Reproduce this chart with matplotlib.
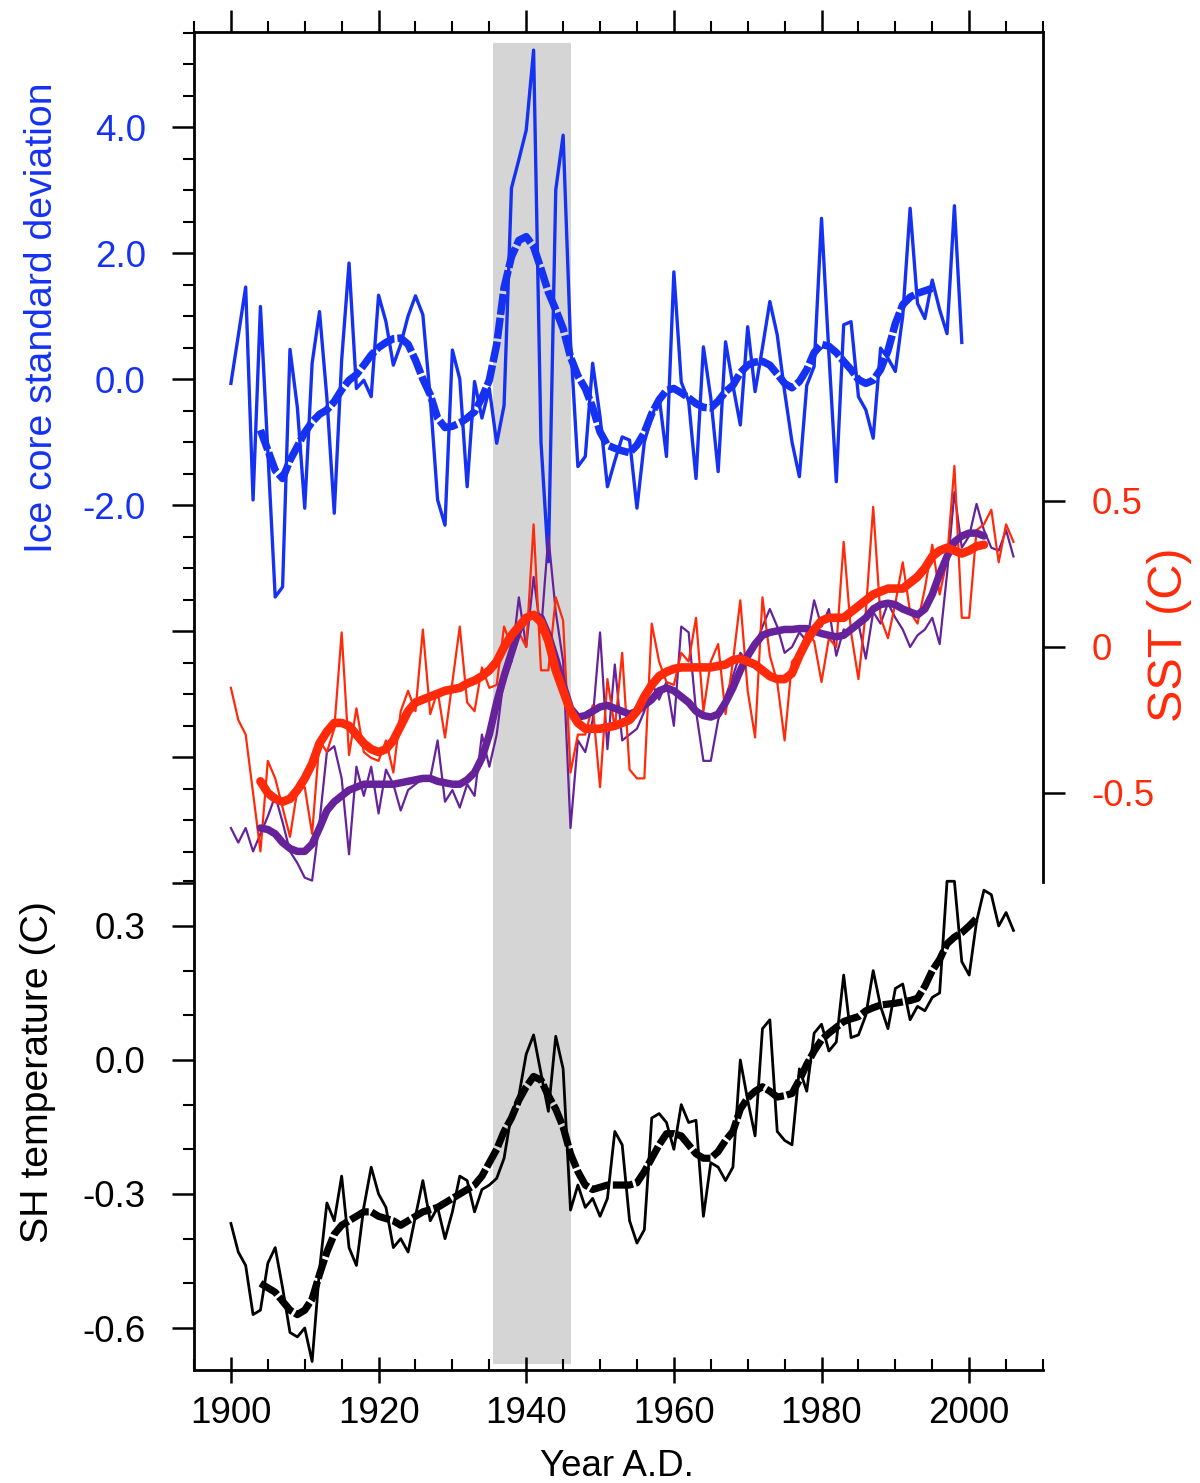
import numpy as np
import matplotlib
matplotlib.use('Agg')
import matplotlib.pyplot as plt
from matplotlib.ticker import FixedLocator, FixedFormatter

plt.rcParams['font.family'] = ['Liberation Sans', 'DejaVu Sans']

# ice core record (standard deviation units), 1900-1999
years_ice = np.arange(1900, 2000)
ice_core = [-0.07, 0.69, 1.46, -1.92, 1.15, -1.15, -3.46, -3.30, 0.47, -0.45,
            -2.05, 0.25, 1.07, -0.30, -2.13, 0.30, 1.84, -0.15, -0.02, -0.28,
            1.33, 0.91, 0.22, 0.55, 1.00, 1.32, 1.02, -0.30, -1.92, -2.32,
            0.46, 0.00, -1.71, -0.04, -0.62, -0.15, -1.02, -0.42, 3.03, 3.48,
            3.95, 5.22, -1.00, -2.90, 3.00, 3.87, 0.60, -1.39, -1.23, 0.25,
            -0.60, -1.71, -1.30, -0.92, -0.97, -2.05, -1.00, -0.60, -0.28, -1.23,
            1.70, -0.05, -0.35, -1.58, 0.51, -0.30, -1.47, 0.59, -0.10, -0.73,
            0.83, -0.20, 0.50, 1.23, 0.70, -0.20, -1.00, -1.55, -0.10, 0.20,
            2.55, 0.40, -1.63, 0.86, 0.91, -0.28, -0.49, -0.94, 0.49, 0.33,
            0.12, 1.00, 2.71, 1.20, 0.96, 1.57, 1.10, 0.72, 2.75, 0.58]
years_ice_smooth = np.arange(1904, 1996)
ice_core_smooth = [-0.81, -1.13, -1.45, -1.58, -1.29, -1.07, -0.85, -0.68, -0.56, -0.49,
                   -0.36, -0.17, -0.02, 0.07, 0.22, 0.38, 0.50, 0.58, 0.64, 0.65,
                   0.55, 0.30, 0.00, -0.25, -0.62, -0.77, -0.75, -0.70, -0.62, -0.52,
                   -0.30, -0.02, 0.55, 1.45, 1.94, 2.20, 2.26, 2.10, 1.75, 1.38,
                   1.10, 0.80, 0.35, 0.05, -0.15, -0.45, -0.84, -1.05, -1.10, -1.14,
                   -1.17, -1.05, -0.85, -0.55, -0.33, -0.18, -0.15, -0.22, -0.30, -0.39,
                   -0.45, -0.46, -0.35, -0.20, -0.10, 0.10, 0.22, 0.27, 0.28, 0.22,
                   0.08, -0.07, -0.14, -0.04, 0.15, 0.42, 0.55, 0.52, 0.42, 0.28,
                   0.15, -0.01, -0.07, -0.02, 0.15, 0.45, 0.88, 1.18, 1.30, 1.36,
                   1.40, 1.44]

# SST (C) and the companion (purple) series, 1900-2006
years = np.arange(1900, 2007)
sst = [-0.14, -0.25, -0.30, -0.50, -0.70, -0.39, -0.45, -0.55, -0.65, -0.49,
       -0.48, -0.64, -0.32, -0.36, -0.28, 0.05, -0.37, -0.21, -0.36, -0.38,
       -0.39, -0.32, -0.43, -0.22, -0.15, -0.22, 0.06, -0.23, -0.15, -0.31,
       -0.12, 0.07, -0.19, -0.22, -0.07, -0.14, -0.13, 0.07, 0.00, 0.05,
       0.00, 0.42, -0.08, -0.08, 0.17, 0.09, -0.43, -0.30, -0.30, -0.20,
       -0.48, -0.11, -0.28, -0.02, -0.42, -0.45, -0.45, 0.08, -0.05, -0.12,
       -0.13, -0.02, -0.05, 0.10, -0.22, -0.05, 0.01, -0.23, -0.05, 0.16,
       -0.15, -0.31, 0.17, -0.03, -0.12, -0.32, -0.05, -0.02, 0.05, 0.02,
       -0.12, 0.03, 0.00, 0.36, 0.05, -0.11, 0.12, 0.48, 0.10, 0.03,
       0.15, 0.29, 0.12, 0.08, 0.20, 0.35, 0.18, 0.30, 0.62, 0.10,
       0.10, 0.40, 0.42, 0.47, 0.29, 0.42, 0.36]
purple = [-0.62, -0.67, -0.62, -0.70, -0.64, -0.58, -0.51, -0.60, -0.70, -0.74,
          -0.79, -0.80, -0.60, -0.36, -0.34, -0.45, -0.71, -0.41, -0.51, -0.41,
          -0.57, -0.42, -0.47, -0.56, -0.49, -0.47, -0.45, -0.45, -0.32, -0.53,
          -0.49, -0.55, -0.47, -0.51, -0.30, -0.41, -0.30, -0.10, -0.05, 0.17,
          0.00, 0.24, 0.05, 0.38, 0.12, -0.05, -0.62, -0.32, -0.36, -0.25,
          0.05, -0.35, -0.06, -0.32, -0.30, -0.28, -0.22, -0.12, -0.18, -0.12,
          -0.27, 0.07, 0.05, -0.22, -0.39, -0.39, -0.25, -0.17, -0.10, -0.02,
          -0.05, 0.00, 0.07, 0.13, 0.07, -0.02, 0.00, 0.05, 0.02, 0.16,
          0.07, 0.13, -0.03, 0.06, 0.05, 0.08, -0.04, 0.12, 0.08, 0.15,
          0.10, 0.06, 0.00, 0.04, 0.06, 0.10, 0.01, 0.25, 0.53, 0.34,
          0.38, 0.49, 0.40, 0.34, 0.33, 0.40, 0.31]
years_smooth = np.arange(1904, 2003)
sst_smooth = [-0.46, -0.50, -0.52, -0.53, -0.52, -0.49, -0.45, -0.40, -0.33, -0.29,
              -0.26, -0.26, -0.27, -0.30, -0.33, -0.35, -0.36, -0.35, -0.32, -0.27,
              -0.22, -0.19, -0.18, -0.17, -0.16, -0.15, -0.145, -0.14, -0.125, -0.115,
              -0.10, -0.08, -0.05, 0.00, 0.04, 0.07, 0.10, 0.11, 0.085, 0.02,
              -0.08, -0.15, -0.22, -0.26, -0.28, -0.28, -0.28, -0.275, -0.27, -0.26,
              -0.25, -0.22, -0.17, -0.13, -0.10, -0.085, -0.075, -0.07, -0.07, -0.07,
              -0.07, -0.07, -0.065, -0.06, -0.045, -0.04, -0.05, -0.06, -0.08, -0.10,
              -0.11, -0.11, -0.09, -0.03, 0.02, 0.06, 0.09, 0.10, 0.10, 0.10,
              0.12, 0.14, 0.16, 0.18, 0.19, 0.20, 0.20, 0.20, 0.22, 0.24,
              0.27, 0.31, 0.33, 0.34, 0.33, 0.32, 0.33, 0.345, 0.35]
purple_smooth = [-0.62, -0.625, -0.64, -0.67, -0.69, -0.70, -0.70, -0.675, -0.62, -0.56,
                 -0.53, -0.51, -0.49, -0.48, -0.47, -0.47, -0.47, -0.47, -0.47, -0.465,
                 -0.46, -0.455, -0.45, -0.45, -0.46, -0.465, -0.47, -0.47, -0.455, -0.43,
                 -0.38, -0.30, -0.19, -0.10, -0.02, 0.06, 0.10, 0.11, 0.10, 0.04,
                 -0.04, -0.13, -0.21, -0.24, -0.235, -0.22, -0.205, -0.20, -0.21, -0.22,
                 -0.23, -0.22, -0.20, -0.18, -0.15, -0.14, -0.15, -0.17, -0.19, -0.22,
                 -0.235, -0.24, -0.23, -0.19, -0.14, -0.08, -0.03, 0.01, 0.04, 0.05,
                 0.055, 0.06, 0.06, 0.063, 0.063, 0.055, 0.046, 0.04, 0.035, 0.04,
                 0.06, 0.08, 0.10, 0.13, 0.145, 0.15, 0.145, 0.13, 0.12, 0.11,
                 0.13, 0.18, 0.25, 0.31, 0.36, 0.38, 0.39, 0.39, 0.38]

# SH temperature (C), 1900-2006
sh_temp = [-0.366, -0.43, -0.46, -0.57, -0.56, -0.455, -0.42, -0.51, -0.61, -0.62,
           -0.60, -0.675, -0.47, -0.32, -0.36, -0.26, -0.42, -0.46, -0.33, -0.24,
           -0.30, -0.33, -0.42, -0.40, -0.43, -0.35, -0.27, -0.36, -0.33, -0.40,
           -0.34, -0.26, -0.27, -0.34, -0.29, -0.28, -0.265, -0.22, -0.12, -0.08,
           0.013, 0.056, -0.03, -0.115, 0.053, -0.02, -0.336, -0.28, -0.33, -0.31,
           -0.35, -0.31, -0.16, -0.19, -0.36, -0.41, -0.38, -0.13, -0.12, -0.14,
           -0.20, -0.10, -0.14, -0.135, -0.35, -0.23, -0.24, -0.27, -0.24, 0.00,
           -0.09, -0.17, 0.07, 0.09, -0.16, -0.18, -0.19, -0.02, -0.07, 0.06,
           0.08, 0.02, 0.04, 0.19, 0.05, 0.056, 0.10, 0.20, 0.12, 0.07,
           0.16, 0.17, 0.09, 0.12, 0.11, 0.14, 0.15, 0.40, 0.40, 0.22,
           0.19, 0.31, 0.38, 0.37, 0.30, 0.33, 0.29]
years_sh_smooth = np.arange(1904, 2002)
sh_smooth = [-0.50, -0.51, -0.52, -0.54, -0.56, -0.57, -0.56, -0.535, -0.48, -0.43,
             -0.39, -0.37, -0.36, -0.35, -0.34, -0.34, -0.35, -0.355, -0.36, -0.37,
             -0.36, -0.35, -0.34, -0.335, -0.33, -0.32, -0.31, -0.30, -0.29, -0.28,
             -0.26, -0.23, -0.20, -0.16, -0.13, -0.09, -0.06, -0.037, -0.045, -0.08,
             -0.11, -0.15, -0.21, -0.25, -0.28, -0.29, -0.285, -0.28, -0.28, -0.28,
             -0.28, -0.275, -0.25, -0.22, -0.19, -0.165, -0.165, -0.17, -0.19, -0.21,
             -0.22, -0.22, -0.205, -0.18, -0.16, -0.11, -0.085, -0.07, -0.06, -0.07,
             -0.083, -0.08, -0.075, -0.045, -0.01, 0.02, 0.045, 0.06, 0.073, 0.086,
             0.092, 0.097, 0.11, 0.117, 0.123, 0.125, 0.127, 0.13, 0.133, 0.138,
             0.165, 0.20, 0.225, 0.26, 0.275, 0.285, 0.30, 0.317]

# shaded period
shade_years = (1935.5, 1946.0)
shade_ice = (-15.63, 5.33)

# ticks and labels
year_ticks = [1900, 1920, 1940, 1960, 1980, 2000]
year_labels = ['1900', '1920', '1940', '1960', '1980', '2000']
year_minor = [1895, 1905, 1910, 1915, 1925, 1930, 1935, 1945, 1950, 1955,
              1965, 1970, 1975, 1985, 1990, 1995, 2005, 2010]
ice_ticks = [4, 2, 0, -2, -4, -6, -8]
ice_labels = ['4.0', '2.0', '0.0', '-2.0', '', '', '']
sh_ticks = [0.3, 0.0, -0.3, -0.6]
sh_labels = ['0.3', '0.0', '-0.3', '-0.6']
sh_minor = [0.4, 0.2, 0.1, -0.1, -0.2, -0.4, -0.5]
sst_ticks = [0.5, 0.0, -0.5]
sst_labels = ['0.5', '0', '-0.5']

BLUE = '#1531f2'
RED = '#ff2a0a'
PURPLE = '#65229a'
FS = 26.5

fig = plt.figure(figsize=(12, 14.83), dpi=100)
rect = [194 / 1200, 113 / 1483, 849 / 1200, 1338 / 1483]
ax = fig.add_axes(rect)
ax_sst = fig.add_axes(rect, sharex=ax)
ax_sh = fig.add_axes(rect, sharex=ax)
for a in (ax_sst, ax_sh):
    a.patch.set_visible(False)

ax.set_xlim(1895, 2010)
ax.set_ylim(-15.73, 5.508)
ax_sh.set_ylim(-0.694, 2.301)
ax_sst.set_ylim(-2.476, 2.106)

# grey band and ice core
ax.fill_between(shade_years, shade_ice[0], shade_ice[1], color='#d5d5d5', lw=0, zorder=0)
ax.plot(years_ice, ice_core, color=BLUE, lw=2.4, zorder=2)
ax.plot(years_ice_smooth, ice_core_smooth, color=BLUE, lw=5.4,
        linestyle=(0, (2.8, 0.4)), dash_capstyle='butt', zorder=3)

# SST panel
ax_sst.plot(years, purple, color=PURPLE, lw=1.6)
ax_sst.plot(years, sst, color=RED, lw=1.6)
ax_sst.plot(years_smooth, purple_smooth, color=PURPLE, lw=5.4, solid_capstyle='round')
ax_sst.plot(years_smooth, sst_smooth, color=RED, lw=6.2, solid_capstyle='round')

# SH temperature
ax_sh.plot(years, sh_temp, color='black', lw=2.0)
ax_sh.plot(years_sh_smooth, sh_smooth, color='black', lw=5.2,
           linestyle=(0, (2.8, 0.4)), dash_capstyle='butt')

# spines
for s in ('right', 'bottom'):
    ax.spines[s].set_visible(False)
for s in ('left', 'top', 'right'):
    ax_sh.spines[s].set_visible(False)
for s in ('left', 'top', 'bottom'):
    ax_sst.spines[s].set_visible(False)
ax_sst.spines['right'].set_bounds(-0.805, 2.106)
for a in (ax, ax_sh, ax_sst):
    for s in a.spines.values():
        s.set_linewidth(2.0)

# top ticks (ice core axes)
ax.xaxis.set_ticks_position('top')
ax.xaxis.set_major_locator(FixedLocator(year_ticks))
ax.xaxis.set_minor_locator(FixedLocator(year_minor))
ax.tick_params(axis='x', which='major', direction='out', length=15.8, width=1.8, labeltop=False)
ax.tick_params(axis='x', which='minor', direction='out', length=8, width=1.5)

# left ticks for the ice core
ax.yaxis.set_ticks_position('left')
ax.yaxis.set_major_locator(FixedLocator(ice_ticks))
ax.yaxis.set_major_formatter(FixedFormatter(ice_labels))
ax.yaxis.set_minor_locator(FixedLocator(np.arange(-8, 5.51, 0.5)))
ax.tick_params(axis='y', which='major', direction='out', length=15.8, width=1.8,
               labelsize=FS, labelcolor=BLUE, pad=19)
ax.tick_params(axis='y', which='minor', direction='out', length=8, width=1.5)

# bottom ticks and left ticks for SH temperature
ax_sh.xaxis.set_ticks_position('bottom')
ax_sh.xaxis.set_major_locator(FixedLocator(year_ticks))
ax_sh.xaxis.set_major_formatter(FixedFormatter(year_labels))
ax_sh.xaxis.set_minor_locator(FixedLocator(year_minor))
ax_sh.tick_params(axis='x', which='major', direction='inout', length=19, width=1.8,
                  labelsize=FS, pad=9)
ax_sh.tick_params(axis='x', which='minor', direction='in', length=8, width=1.5)
ax_sh.yaxis.set_ticks_position('left')
ax_sh.yaxis.set_major_locator(FixedLocator(sh_ticks))
ax_sh.yaxis.set_major_formatter(FixedFormatter(sh_labels))
ax_sh.yaxis.set_minor_locator(FixedLocator(sh_minor))
ax_sh.tick_params(axis='y', which='major', direction='out', length=15.8, width=1.8,
                  labelsize=FS, pad=19)
ax_sh.tick_params(axis='y', which='minor', direction='out', length=8, width=1.5)

# right ticks for SST
ax_sst.tick_params(axis='x', which='both', bottom=False, top=False,
                   labelbottom=False, labeltop=False)
ax_sst.yaxis.set_ticks_position('right')
ax_sst.yaxis.set_major_locator(FixedLocator(sst_ticks))
ax_sst.yaxis.set_major_formatter(FixedFormatter(sst_labels))
ax_sst.yaxis.set_minor_locator(FixedLocator([]))
ax_sst.tick_params(axis='y', which='major', direction='out', length=15.8, width=1.8,
                   labelsize=FS, labelcolor=RED, pad=19)

# axis titles
fig.text(42 / 1200, 1 - 318 / 1483, 'Ice core standard deviation', color=BLUE,
         fontsize=28.3, rotation=90, ha='center', va='center')
fig.text(38 / 1200, 1 - 1072 / 1483, 'SH temperature (C)', color='black',
         fontsize=28.3, rotation=90, ha='center', va='center')
fig.text(1170 / 1200, 1 - 635 / 1483, 'SST (C)', color=RED,
         fontsize=35, rotation=90, ha='center', va='center')
fig.text(617 / 1200, 1 - 1466 / 1483, 'Year A.D.', color='black',
         fontsize=FS, ha='center', va='center')

fig.savefig('out.png', dpi=100)
